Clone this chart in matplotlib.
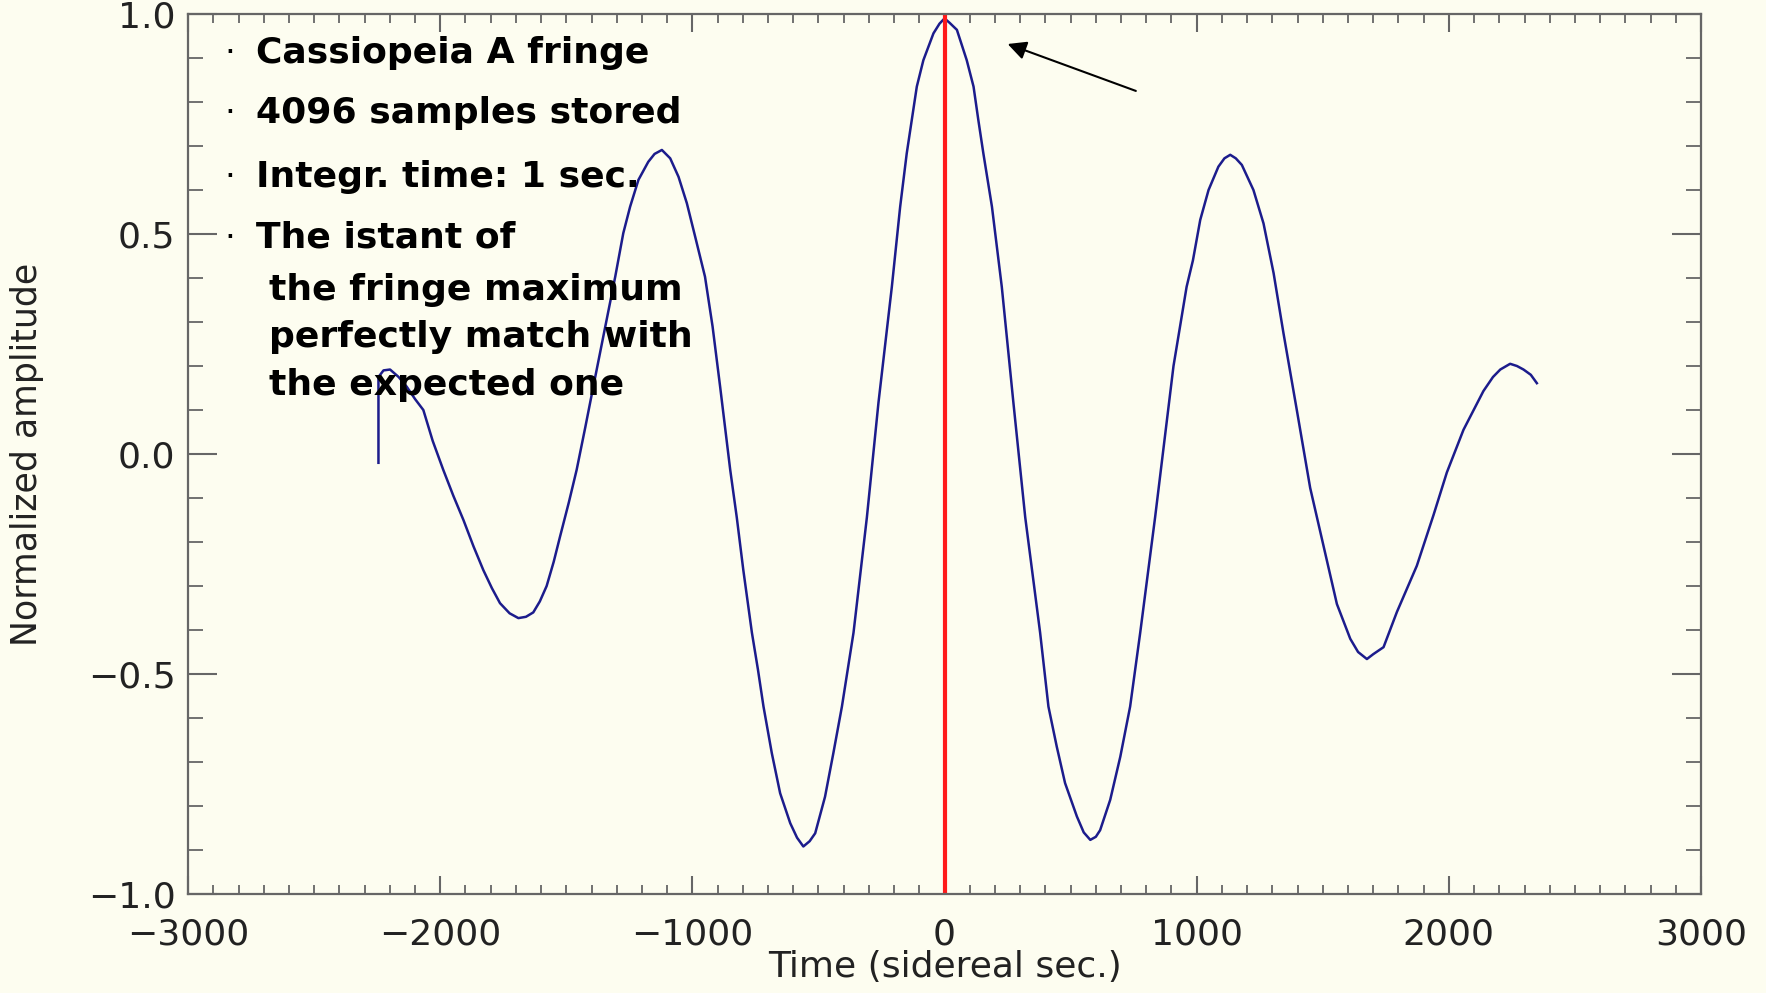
import matplotlib
matplotlib.use("Agg")
import matplotlib.pyplot as plt
from matplotlib.ticker import MultipleLocator

# fringe trace (sidereal sec, normalized amplitude)
time_sec = [-2245, -2245, -2225, -2199, -2165, -2133, -2100, -2067, -2030, -1988,
            -1948, -1908, -1868, -1829, -1795, -1763, -1725, -1690, -1660, -1631,
            -1605, -1578, -1550, -1525, -1490, -1459, -1425, -1393, -1340, -1306,
            -1274, -1247, -1214, -1175, -1150, -1121, -1088, -1055, -1022, -989,
            -950, -920, -890, -850, -824, -798, -764, -740, -718, -685,
            -652, -612, -585, -560, -535, -513, -474, -441, -407, -361,
            -308, -262, -209, -176, -150, -130, -110, -84, -44, -20,
            0, 20, 49, 88, 115, 134, 154, 188, 227, 273,
            320, 379, 412, 445, 478, 525, 552, 578, 600, 617,
            657, 697, 736, 776, 835, 870, 908, 960, 985, 1014,
            1047, 1086, 1110, 1133, 1155, 1179, 1225, 1265, 1305, 1344,
            1397, 1450, 1503, 1556, 1609, 1640, 1675, 1700, 1741, 1794,
            1873, 1939, 1992, 2058, 2137, 2175, 2204, 2243, 2270, 2296,
            2325, 2349]
amplitude = [-0.02, 0.175, 0.19, 0.192, 0.175, 0.153, 0.125, 0.10, 0.03, -0.036,
             -0.095, -0.15, -0.21, -0.264, -0.305, -0.339, -0.362, -0.373, -0.37, -0.36,
             -0.335, -0.30, -0.245, -0.188, -0.11, -0.036, 0.06, 0.153, 0.305, 0.403,
             0.502, 0.562, 0.623, 0.664, 0.682, 0.691, 0.672, 0.63, 0.57, 0.494,
             0.403, 0.29, 0.153, -0.036, -0.144, -0.264, -0.406, -0.49, -0.574, -0.68,
             -0.771, -0.839, -0.872, -0.892, -0.88, -0.862, -0.779, -0.68, -0.574, -0.406,
             -0.144, 0.117, 0.38, 0.562, 0.683, 0.759, 0.835, 0.895, 0.956, 0.978,
             0.99, 0.98, 0.964, 0.895, 0.835, 0.759, 0.683, 0.562, 0.38, 0.117,
             -0.144, -0.406, -0.574, -0.665, -0.748, -0.824, -0.86, -0.877, -0.87, -0.855,
             -0.786, -0.688, -0.574, -0.406, -0.144, 0.02, 0.2, 0.38, 0.44, 0.532,
             0.6, 0.653, 0.672, 0.68, 0.672, 0.657, 0.6, 0.524, 0.411, 0.275,
             0.10, -0.077, -0.209, -0.341, -0.42, -0.45, -0.466, -0.455, -0.439, -0.359,
             -0.254, -0.139, -0.042, 0.055, 0.143, 0.175, 0.192, 0.205, 0.2, 0.192,
             0.18, 0.161]

expected_max = 0.0
notes = ["Cassiopeia A fringe", "4096 samples stored", "Integr. time: 1 sec.",
         "The istant of"]
notes_cont = ["the fringe maximum", "perfectly match with", "the expected one"]

BG = "#FDFDF0"
AXC = "#666666"

fig = plt.figure(figsize=(17.66, 9.93), dpi=100, facecolor=BG)
ax = fig.add_axes([0.1065, 0.0997, 0.8567, 0.8862], facecolor=BG)

ax.plot(time_sec, amplitude, color="#1c1c8c", lw=1.8)
ax.axvline(expected_max, color="#ff1a1a", lw=3)
ax.annotate("", xy=(240, 0.934), xytext=(769, 0.823),
            arrowprops=dict(arrowstyle="-|>", color="black", lw=1.5, mutation_scale=28))

ax.set_xlim(-3000, 3000)
ax.set_ylim(-1.0, 1.0)
ax.xaxis.set_major_locator(MultipleLocator(1000))
ax.xaxis.set_minor_locator(MultipleLocator(100))
ax.yaxis.set_major_locator(MultipleLocator(0.5))
ax.yaxis.set_minor_locator(MultipleLocator(0.1))
ax.xaxis.set_major_formatter(lambda v, p: f"{v:.0f}".replace("-", "\u2212"))
ax.yaxis.set_major_formatter(lambda v, p: f"{v:.1f}".replace("-", "\u2212"))

ax.tick_params(axis="x", which="major", direction="in", top=True, length=13, width=1.5,
               color=AXC, labelsize=26, labelcolor="#222222", pad=17)
ax.tick_params(axis="x", which="minor", direction="in", top=True, length=6.5, width=1.3,
               color=AXC)
ax.tick_params(axis="y", which="major", direction="in", right=True, length=21, width=1.5,
               color=AXC, labelsize=26, labelcolor="#222222", pad=9)
ax.tick_params(axis="y", which="minor", direction="in", right=True, length=10.5, width=1.3,
               color=AXC)
for sp in ax.spines.values():
    sp.set_color(AXC)
    sp.set_linewidth(1.6)

ax.set_xlabel("Time (sidereal sec.)", fontsize=26, color="#222222")
ax.set_ylabel("Normalized amplitude", fontsize=25, color="#222222")
ax.xaxis.set_label_coords(0.5, -0.064)
ax.yaxis.set_label_coords(-0.095, 0.5)

# bullet notes, placed in figure pixels
W, H = 1766, 993
bullet_y = [63, 123, 187, 248]
for txt, y in zip(notes, bullet_y):
    fig.text(224 / W, 1 - y / H, "\u00b7", fontsize=24, va="baseline")
    fig.text(256 / W, 1 - y / H, txt, fontsize=26, fontweight="bold", va="baseline")
for txt, y in zip(notes_cont, [300, 347, 395]):
    fig.text(269 / W, 1 - y / H, txt, fontsize=26, fontweight="bold", va="baseline")

fig.savefig("out.png", dpi=100, facecolor=BG)
